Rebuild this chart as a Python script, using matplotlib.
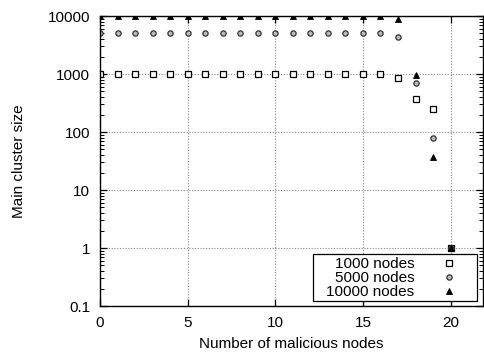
import matplotlib
matplotlib.use("Agg")
import matplotlib.pyplot as plt
from matplotlib.patches import Rectangle
from matplotlib.ticker import FixedLocator, FixedFormatter, LogLocator, NullFormatter

x = list(range(0, 21))
nodes_1000 = [1000]*17 + [853, 366, 246, 1]
nodes_5000 = [5000]*17 + [4290, 690, 78, 1]
nodes_10000 = [10000]*17 + [8770, 950, 37.5, 1]
labels = ["1000 nodes", "5000 nodes", "10000 nodes"]
xticks = [0, 5, 10, 15, 20]
yticks = [0.1, 1, 10, 100, 1000, 10000]
ytick_labels = ["0.1", "1", "10", "100", "1000", "10000"]

W, H = 484, 356
FS = 11
plt.rcParams['font.family'] = ['Liberation Sans', 'DejaVu Sans']
fig = plt.figure(figsize=(W/100, H/100), dpi=100)
ax = fig.add_axes([100/W, 1-306/H, 383/W, 290/H])

ms = 3.8
h1, = ax.plot(x, nodes_1000, linestyle='none', marker='s', markersize=ms, markerfacecolor='white',
        markeredgecolor='black', markeredgewidth=0.9, label=labels[0])
h2, = ax.plot(x, nodes_5000, linestyle='none', marker='o', markersize=ms, markerfacecolor='#bbbbbb',
        markeredgecolor='#333333', markeredgewidth=0.9, label=labels[1])
h3, = ax.plot(x, nodes_10000, linestyle='none', marker='^', markersize=ms+0.3, markerfacecolor='black',
        markeredgecolor='black', markeredgewidth=0.6, label=labels[2])

ax.set_yscale('log')
ax.set_ylim(0.1, 10000)
ax.set_xlim(0, 21.85)
ax.xaxis.set_major_locator(FixedLocator(xticks))
ax.yaxis.set_major_locator(FixedLocator(yticks))
ax.yaxis.set_major_formatter(FixedFormatter(ytick_labels))
ax.yaxis.set_minor_locator(LogLocator(base=10, subs=[2, 3, 4, 5, 6, 7, 8, 9]))
ax.yaxis.set_minor_formatter(NullFormatter())
ax.tick_params(which='both', direction='in', top=True, right=True, labelsize=FS, pad=7)
ax.tick_params(which='major', length=5, width=0.9)
ax.tick_params(which='minor', length=3, width=0.7)
ax.grid(True, which='major', linestyle=(0, (1, 1.5)), color='#888888', linewidth=0.8)
for s in ax.spines.values():
    s.set_linewidth(1.0)

ax.set_xlabel("Number of malicious nodes", fontsize=FS, labelpad=5)
ax.set_ylabel("Main cluster size", fontsize=FS, labelpad=16)

# legend frame (gnuplot style key box)
fig.patches.append(Rectangle((313/W, 1-301/H), 164/W, 47/H, transform=fig.transFigure,
                             facecolor='white', edgecolor='black', linewidth=0.9, zorder=1))
leg = fig.legend(handles=[h1, h2, h3], labels=labels, loc='center right',
                 bbox_to_anchor=(457/W, 1-278/H), bbox_transform=fig.transFigure,
                 markerfirst=False, fontsize=FS, frameon=False, borderpad=0, borderaxespad=0,
                 labelspacing=0.0, handletextpad=1.8, handlelength=1.0)
leg.set_zorder(5)
for t in leg.get_texts():
    t.set_ha('right')

fig.savefig("out.png", dpi=100)
